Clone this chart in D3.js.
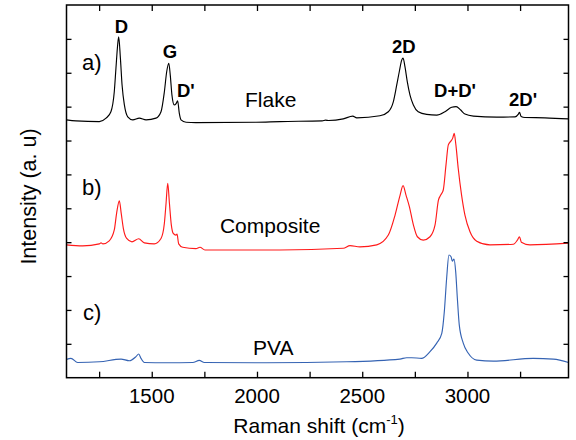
<!DOCTYPE html>
<html>
<head>
<meta charset="utf-8">
<script src="https://cdn.jsdelivr.net/npm/d3@7"></script>
<style>
  html, body { margin: 0; padding: 0; background: #fff; }
  svg { display: block; }
  text { font-family: "Liberation Sans", Arial, sans-serif; fill: #000; }
</style>
</head>
<body>
<svg id="chart" width="576" height="440"></svg>
<script>
// ---- data (Raman shift in cm^-1, intensity in arbitrary units, offset traces) ----
const flakeShift = [1095,1140,1251,1283,1306,1322,1330,1338,1343,1351,1359,1370,1386,1410,1441,1473,1520,1544,1560,1571,1581,1588,1596,1607,1615,1623,1631,1639,1663,1710,1995,2109,2310,2326,2340,2410,2455,2474,2584,2624,2648,2664,2676,2688,2694,2703,2714,2727,2743,2766,2806,2854,2893,2925,2946,2968,2988,3028,3139,3226,3242,3247,3255,3273,3368,3480];
const flakeInt   = [7.61,7.58,7.56,7.66,7.85,8.44,9.14,9.82,10.06,9.44,8.64,8.05,7.70,7.61,7.66,7.61,7.66,7.85,8.44,9.03,9.28,8.93,8.34,8.05,8.08,8.17,7.80,7.61,7.54,7.53,7.54,7.56,7.58,7.60,7.59,7.64,7.72,7.67,7.73,7.85,8.15,8.64,9.03,9.38,9.43,9.18,8.74,8.34,8.05,7.85,7.77,7.75,7.85,7.98,8.00,7.90,7.78,7.72,7.69,7.70,7.78,7.83,7.71,7.68,7.67,7.64];

const compShift = [1095,1172,1251,1259,1268,1298,1322,1333,1346,1355,1365,1381,1406,1438,1465,1512,1544,1560,1568,1576,1584,1593,1602,1615,1620,1628,1647,1710,1729,1753,2109,2410,2442,2489,2569,2624,2656,2680,2694,2708,2724,2743,2762,2790,2822,2846,2862,2873,2885,2898,2909,2922,2930,2937,2945,2956,2972,2988,3012,3044,3107,3218,3237,3247,3256,3297,3480];
const compInt   = [3.92,3.89,3.95,3.98,3.95,4.04,4.36,4.85,5.22,4.85,4.41,4.11,4.01,4.10,3.98,3.95,4.11,4.56,5.15,5.74,5.15,4.51,4.26,4.21,4.24,3.95,3.85,3.81,3.85,3.77,3.77,3.82,3.90,3.86,3.92,4.21,4.80,5.39,5.67,5.39,5.05,4.51,4.16,4.06,4.16,4.51,5.24,5.39,5.54,6.28,6.87,6.99,7.07,7.21,6.87,6.18,5.39,4.80,4.31,4.03,3.92,3.94,4.06,4.16,4.00,3.92,3.97];

const pvaShift = [1095,1116,1148,1251,1354,1393,1425,1438,1449,1465,1568,1695,1726,1750,2043,2426,2679,2711,2735,2782,2822,2854,2878,2890,2901,2912,2922,2928,2936,2944,2952,2961,2980,3004,3044,3123,3313,3408,3480];
const pvaInt   = [0.54,0.57,0.45,0.47,0.55,0.50,0.62,0.70,0.57,0.45,0.44,0.45,0.51,0.45,0.44,0.47,0.55,0.59,0.59,0.57,0.77,1.02,1.31,1.95,2.93,3.62,3.57,3.44,3.50,3.13,2.34,1.56,1.02,0.72,0.52,0.49,0.57,0.55,0.45];

const seriesNames  = ["Flake", "Composite", "PVA"];
const seriesColors = ["#000000", "#ff1a1a", "#3563b3"];

const xTickLabels = [1500, 2000, 2500, 3000];
const xMinorTicks = [1250, 1500, 1750, 2000, 2250, 2500, 2750, 3000, 3250];
const yTicks = [1, 2, 3, 4, 5, 6, 7, 8, 9, 10];

// annotations (anchored in data units)
const peakLabels = [
  {t: "D",    x: 1356, y: 10.16, a: "middle"},
  {t: "G",    x: 1587, y: 9.43,  a: "middle"},
  {t: "D'",   x: 1620, y: 8.28,  a: "start"},
  {t: "2D",   x: 2698, y: 9.57,  a: "middle"},
  {t: "D+D'", x: 2941, y: 8.28,  a: "middle"},
  {t: "2D'",  x: 3264, y: 8.02,  a: "middle"}
];
const traceLabels = [
  {t: "Flake",     x: 1943, y: 7.98},
  {t: "Composite", x: 1824, y: 4.26},
  {t: "PVA",       x: 1981, y: 0.67}
];
const panelLabels = [
  {t: "a)", x: 1169, y: 9.07},
  {t: "b)", x: 1169, y: 5.39},
  {t: "c)", x: 1173, y: 1.70}
];

// ---- drawing ----
const svg = d3.select("#chart");
const L = 66.5, R = 568.5, T = 5, B = 377.7;

const x = d3.scaleLinear().domain([1095, 3480]).range([L, R]);
const y = d3.scaleLinear().domain([0, 11]).range([B, T]);

const series = [
  {shift: flakeShift, val: flakeInt},
  {shift: compShift,  val: compInt},
  {shift: pvaShift,   val: pvaInt}
];

svg.append("clipPath").attr("id", "clip")
  .append("rect").attr("x", L).attr("y", T).attr("width", R - L).attr("height", B - T);

const line = d3.line()
  .x(d => x(d[0])).y(d => y(d[1]))
  .curve(d3.curveMonotoneX);

series.forEach((s, i) => {
  const pts = s.shift.map((v, k) => [v, s.val[k]]);
  svg.append("path")
    .attr("clip-path", "url(#clip)")
    .attr("d", line(pts))
    .attr("fill", "none")
    .attr("stroke", seriesColors[i])
    .attr("stroke-width", 1.15)
    .attr("stroke-linejoin", "round");
});

// axes (ticks pointing inward)
const tickLen = 6;
const bottomAx = d3.axisBottom(x).tickValues(xMinorTicks).tickSize(-tickLen).tickFormat("");
const topAx = d3.axisTop(x).tickValues(xMinorTicks).tickSize(-tickLen).tickFormat("");
const leftAx = d3.axisLeft(y).tickValues(yTicks).tickSize(-5).tickFormat("");
const rightAx = d3.axisRight(y).tickValues(yTicks).tickSize(-5).tickFormat("");

function style(g) {
  g.select(".domain").remove();
  g.selectAll(".tick line").attr("stroke", "#000").attr("stroke-width", 1.3);
}
svg.append("g").attr("transform", `translate(0,${B})`).call(bottomAx).call(style);
svg.append("g").attr("transform", `translate(0,${T})`).call(topAx).call(style);
svg.append("g").attr("transform", `translate(${L},0)`).call(leftAx).call(style);
svg.append("g").attr("transform", `translate(${R},0)`).call(rightAx).call(style);

svg.append("rect")
  .attr("x", L).attr("y", T).attr("width", R - L).attr("height", B - T)
  .attr("fill", "none").attr("stroke", "#000").attr("stroke-width", 1.5);

// x tick labels
svg.selectAll(".xlab").data(xTickLabels).enter().append("text")
  .attr("x", d => x(d)).attr("y", 403)
  .attr("text-anchor", "middle").attr("font-size", "20.5px")
  .text(d => d);

// axis titles
const xt = svg.append("text")
  .attr("x", 319).attr("y", 433)
  .attr("text-anchor", "middle").attr("font-size", "21px");
xt.append("tspan").text("Raman shift (cm");
xt.append("tspan").attr("font-size", "13px").attr("dy", -9).text("-1");
xt.append("tspan").attr("dy", 9).text(")");

svg.append("text")
  .attr("transform", "translate(36,196.5) rotate(-90)")
  .attr("text-anchor", "middle").attr("font-size", "21.5px")
  .text("Intensity (a. u)");

// peak labels
svg.selectAll(".peak").data(peakLabels).enter().append("text")
  .attr("x", d => x(d.x)).attr("y", d => y(d.y))
  .attr("text-anchor", d => d.a)
  .attr("font-size", "18.5px").attr("font-weight", "bold")
  .text(d => d.t);

svg.selectAll(".trace").data(traceLabels).enter().append("text")
  .attr("x", d => x(d.x)).attr("y", d => y(d.y))
  .attr("font-size", "21px")
  .text(d => d.t);

svg.selectAll(".panel").data(panelLabels).enter().append("text")
  .attr("x", d => x(d.x)).attr("y", d => y(d.y))
  .attr("font-size", "22px")
  .text(d => d.t);
</script>
</body>
</html>
